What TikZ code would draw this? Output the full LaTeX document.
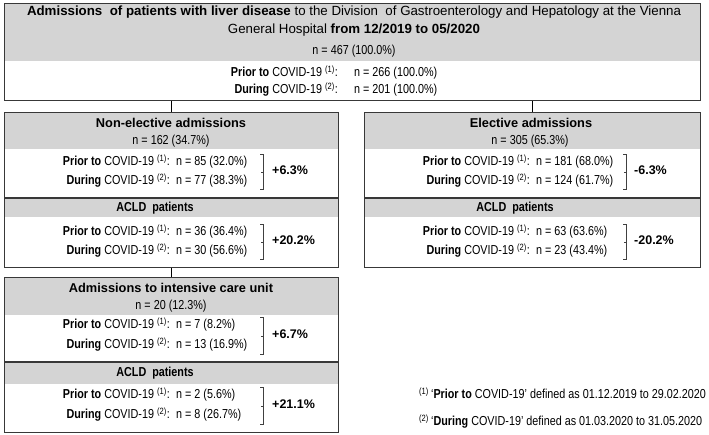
\documentclass[tikz,border=0pt]{standalone}
\usepackage{fontspec}
\setmainfont{Liberation Sans}[FakeStretch=0.83]
\newfontfamily\widefont{Liberation Sans}
\usetikzlibrary{positioning}

\begin{document}
\begin{tikzpicture}[
  x=1pt, y=-1pt,
  every node/.style={inner sep=0pt, font=\fontsize{13}{15}\selectfont},
  panel/.style={draw=black!78, line width=1.2pt, anchor=north west},
  divider/.style={draw=black!78, line width=1.2pt},
  head/.style={fill=black!17},
  title/.style={font=\widefont\fontsize{12.8}{15}\selectfont\bfseries},
  subtitle/.style={font=\fontsize{13}{15}\selectfont\bfseries},
  lbl/.style={anchor=mid east},
  val/.style={anchor=mid west},
  delta/.style={anchor=mid west, font=\widefont\fontsize{12.5}{14}\selectfont\bfseries},
  bracket/.style={draw=black!75, line width=0.7pt},
  link/.style={draw, line width=0.9pt}
]
  \useasboundingbox (0,0) rectangle (709,434);

  \fill[head] (4,3) rectangle (700,61);
  \fill[head] (4,112) rectangle (338,149);
  \fill[head] (4,198) rectangle (338,217);
  \fill[head] (364,112) rectangle (700,149);
  \fill[head] (364,198) rectangle (700,217);
  \fill[head] (4,277) rectangle (338,315);
  \fill[head] (4,362) rectangle (338,384);

  \node[panel, minimum width=696, minimum height=97] (total) at (4,3) {};
  \node[panel, minimum width=334, minimum height=155] (nonelective) at (4,112) {};
  \node[panel, minimum width=336, minimum height=155] (elective) at (364,112) {};
  \node[panel, minimum width=334, minimum height=155] (icu) at (4,277) {};
  \draw[divider] (nonelective.west |- 0,198) -- (nonelective.east |- 0,198);
  \draw[divider] (elective.west |- 0,198) -- (elective.east |- 0,198);
  \draw[divider] (icu.west |- 0,362) -- (icu.east |- 0,362);

  \path[link] (total.south -| nonelective.north) -- (nonelective.north);
  \path[link] (total.south -| elective.north) -- (elective.north);
  \path[link] (nonelective.south) -- (icu.north);

  % all admissions
  \node[align=center, font=\widefont\fontsize{13.3}{18}\selectfont] (totaltitle) at (354,21)
    {\textbf{Admissions\ \ of patients with liver disease} to the Division\ \ of Gastroenterology and Hepatology at the Vienna\\
     General Hospital \textbf{from 12/2019 to 05/2020}};
  \node (totaln) at (354,51) {n = 467 (100.0\%)};
  \node[lbl] (totalprior) at (338,74) {\textbf{Prior to} COVID-19 \textsuperscript{(1)}:};
  \node[val] (totalpriorn) at (354,74) {n = 266 (100.0\%)};
  \node[lbl] (totalduring) at (338,91) {\textbf{During} COVID-19 \textsuperscript{(2)}:};
  \node[val] (totalduringn) at (354,91) {n = 201 (100.0\%)};

  % non-elective
  \node[title] (netitle) at (171,123) {Non-elective admissions};
  \node (nen) at (171,141) {n = 162 (34.7\%)};
  \node[lbl] (neprior) at (170,163) {\textbf{Prior to} COVID-19 \textsuperscript{(1)}:};
  \node[val] (nepriorn) at (176,163) {n = 85 (32.0\%)};
  \node[lbl] (neduring) at (170,182) {\textbf{During} COVID-19 \textsuperscript{(2)}:};
  \node[val] (neduringn) at (176,182) {n = 77 (38.3\%)};
  \draw[bracket] (260,154) -- (263,154) -- (263,189) -- (260,189) (263,172) -- ++(-2,0);
  \node[delta] (nedelta) at (272,172) {+6.3\%};
  \node[subtitle] (neacld) at (155,208) {ACLD\ \ patients};
  \node[lbl] (neacldprior) at (170,233) {\textbf{Prior to} COVID-19 \textsuperscript{(1)}:};
  \node[val] (neacldpriorn) at (176,233) {n = 36 (36.4\%)};
  \node[lbl] (neaclduring) at (170,252) {\textbf{During} COVID-19 \textsuperscript{(2)}:};
  \node[val] (neaclduringn) at (176,252) {n = 30 (56.6\%)};
  \draw[bracket] (260,224) -- (263,224) -- (263,259) -- (260,259) (263,242) -- ++(-2,0);
  \node[delta] (neaclddelta) at (272,242) {+20.2\%};

  % elective
  \node[title] (eltitle) at (531,123) {Elective admissions};
  \node (eln) at (530,141) {n = 305 (65.3\%)};
  \node[lbl] (elprior) at (530,163) {\textbf{Prior to} COVID-19 \textsuperscript{(1)}:};
  \node[val] (elpriorn) at (536,163) {n = 181 (68.0\%)};
  \node[lbl] (elduring) at (530,182) {\textbf{During} COVID-19 \textsuperscript{(2)}:};
  \node[val] (elduringn) at (536,182) {n = 124 (61.7\%)};
  \draw[bracket] (623,154) -- (626,154) -- (626,189) -- (623,189) (626,172) -- ++(-2,0);
  \node[delta] (eldelta) at (634,172) {-6.3\%};
  \node[subtitle] (elacld) at (515,208) {ACLD\ \ patients};
  \node[lbl] (elacldprior) at (530,233) {\textbf{Prior to} COVID-19 \textsuperscript{(1)}:};
  \node[val] (elacldpriorn) at (536,233) {n = 63 (63.6\%)};
  \node[lbl] (elaclduring) at (530,252) {\textbf{During} COVID-19 \textsuperscript{(2)}:};
  \node[val] (elaclduringn) at (536,252) {n = 23 (43.4\%)};
  \draw[bracket] (623,224) -- (626,224) -- (626,259) -- (623,259) (626,242) -- ++(-2,0);
  \node[delta] (elaclddelta) at (634,242) {-20.2\%};

  % intensive care unit
  \node[title] (icutitle) at (171,288) {Admissions to intensive care unit};
  \node (icun) at (171,306) {n = 20 (12.3\%)};
  \node[lbl] (icuprior) at (170,326) {\textbf{Prior to} COVID-19 \textsuperscript{(1)}:};
  \node[val] (icupriorn) at (176,326) {n = 7 (8.2\%)};
  \node[lbl] (icuduring) at (170,346) {\textbf{During} COVID-19 \textsuperscript{(2)}:};
  \node[val] (icuduringn) at (176,346) {n = 13 (16.9\%)};
  \draw[bracket] (260,317) -- (263,317) -- (263,354) -- (260,354) (263,336) -- ++(-2,0);
  \node[delta] (icudelta) at (272,336) {+6.7\%};
  \node[subtitle] (icuacld) at (155,373) {ACLD\ \ patients};
  \node[lbl] (icuacldprior) at (170,396) {\textbf{Prior to} COVID-19 \textsuperscript{(1)}:};
  \node[val] (icuacldpriorn) at (176,396) {n = 2 (5.6\%)};
  \node[lbl] (icuaclduring) at (170,416) {\textbf{During} COVID-19 \textsuperscript{(2)}:};
  \node[val] (icuaclduringn) at (176,416) {n = 8 (26.7\%)};
  \draw[bracket] (260,387) -- (263,387) -- (263,424) -- (260,424) (263,406) -- ++(-2,0);
  \node[delta] (icuaclddelta) at (272,406) {+21.1\%};

  % footnotes
  \node[anchor=mid west] (notea) at (419,396) {\textsuperscript{(1)}\,`\textbf{Prior to} COVID-19' defined as 01.12.2019 to 29.02.2020};
  \node[anchor=mid west] (noteb) at (419,423) {\textsuperscript{(2)}\,`\textbf{During} COVID-19' defined as 01.03.2020 to 31.05.2020};
\end{tikzpicture}
\end{document}
